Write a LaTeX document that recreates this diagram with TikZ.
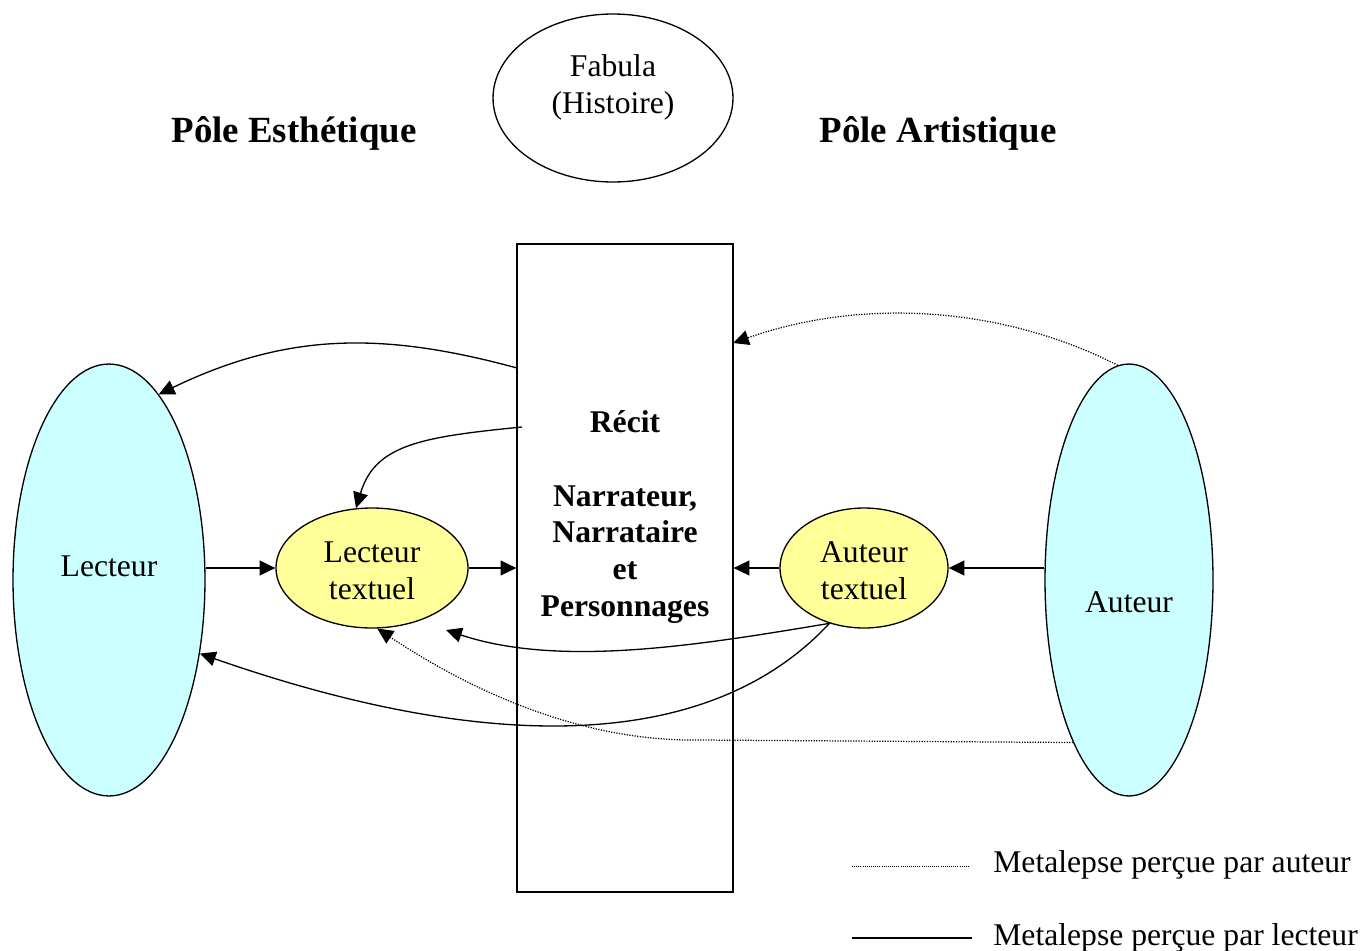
\documentclass[tikz,border=0pt]{standalone}
\usepackage{fontspec}
\setmainfont{Liberation Serif}
\usepackage{tikz}
\usetikzlibrary{shapes.geometric,arrows.meta}

\definecolor{palecyan}{HTML}{CCFFFF}
\definecolor{paleyellow}{HTML}{FFFF99}

\tikzset{
    txt/.style={font=\fontsize{18}{21}\selectfont, align=center, inner sep=0pt},
    pole/.style={font=\fontsize{21}{25}\selectfont\bfseries, inner sep=0pt},
    bigell/.style={ellipse, draw, line width=0.75pt, fill=palecyan, inner sep=0pt, minimum height=8.64cm},
    smallell/.style={ellipse, draw, line width=0.75pt, fill=paleyellow, inner sep=0pt, minimum height=2.4cm},
    arr/.style={-{Triangle[length=9pt,width=8.5pt]}, line width=0.75pt},
    dotarr/.style={-{Triangle[length=9pt,width=8.5pt]}, line width=0.7pt, dash pattern=on 0.7pt off 0.8pt}
}

\begin{document}
\begin{tikzpicture}[x=0.02cm, y=-0.02cm]
    \useasboundingbox (0,0) rectangle (1365,950);

    % top
    \node[ellipse, draw, line width=0.75pt, inner sep=0pt, minimum width=4.8cm, minimum height=3.36cm] (fabula) at (613,98) {};
    \node[txt] (fabulatxt) at (613,87) {Fabula\\(Histoire)};
    \node[pole] (esth) at (294,133) {Pôle Esthétique};
    \node[pole] (arti) at (938,133) {Pôle Artistique};

    % recit
    \node[draw, line width=0.75pt, minimum width=4.32cm, minimum height=12.96cm, inner sep=0pt] (recit) at (625,568) {};
    \node[txt, font=\fontsize{18}{21}\selectfont\bfseries] (recittxt) at (625,517) {Récit\\[21pt]Narrateur,\\Narrataire\\et\\Personnages};

    % poles
    \node[bigell, minimum width=3.84cm] (lecteur) at (109,580) {};
    \node[txt] (lecteurtxt) at (109,566) {Lecteur};
    \node[bigell, minimum width=3.36cm] (auteur) at (1129,580) {};
    \node[txt] (auteurtxt) at (1129,602) {Auteur};
    \node[smallell, minimum width=3.84cm] (lt) at (372,568) {};
    \node[txt] (lttxt) at (372,571) {Lecteur\\textuel};
    \node[smallell, minimum width=3.36cm] (at) at (864,568) {};
    \node[txt] (attxt) at (864,571) {Auteur\\textuel};

    \coordinate (r1) at (517,368);
    \coordinate (r2) at (522,427);
    \coordinate (r3) at (733,343);
    \coordinate (c7) at (446,630);

    % straight arrows
    \draw[arr] (lecteur.east |- lt.west) -- (lt.west);
    \draw[arr] (lt.east) -- (lt.east -| recit.west);
    \draw[arr] (auteur.west |- at.east) -- (at.east);
    \draw[arr] (at.west) -- (at.west -| recit.east);

    % curved arrows
    \draw[arr] (r1) .. controls (381,331) and (286,333) .. (lecteur.75);
    \draw[arr] (r2) .. controls (420,437) and (375,445) .. (lt.105);
    \draw[arr] (at.238) .. controls (700,645) and (560,668) .. (c7);
    \draw[arr] (at.238) .. controls (710,752) and (490,755) .. (lecteur.-39);
    \draw[dotarr] (auteur.93) .. controls (1010,310) and (870,295) .. (r3);
    \draw[dotarr] (auteur.251) -- (700,740) .. controls (580,742) and (470,690) .. (lt.275);

    % legend
    \coordinate (la) at (852,866);
    \coordinate (lb) at (970,866);
    \coordinate (lc) at (852,938);
    \coordinate (ld) at (972,938);
    \draw[line width=0.5pt, dash pattern=on 0.5pt off 0.7pt] (la) -- (lb);
    \draw[line width=0.9pt] (lc) -- (ld);
    \node[txt, anchor=west] (leg1) at (993,865) {Metalepse perçue par auteur};
    \node[txt, anchor=west] (leg2) at (993,938) {Metalepse perçue par lecteur};
\end{tikzpicture}
\end{document}
